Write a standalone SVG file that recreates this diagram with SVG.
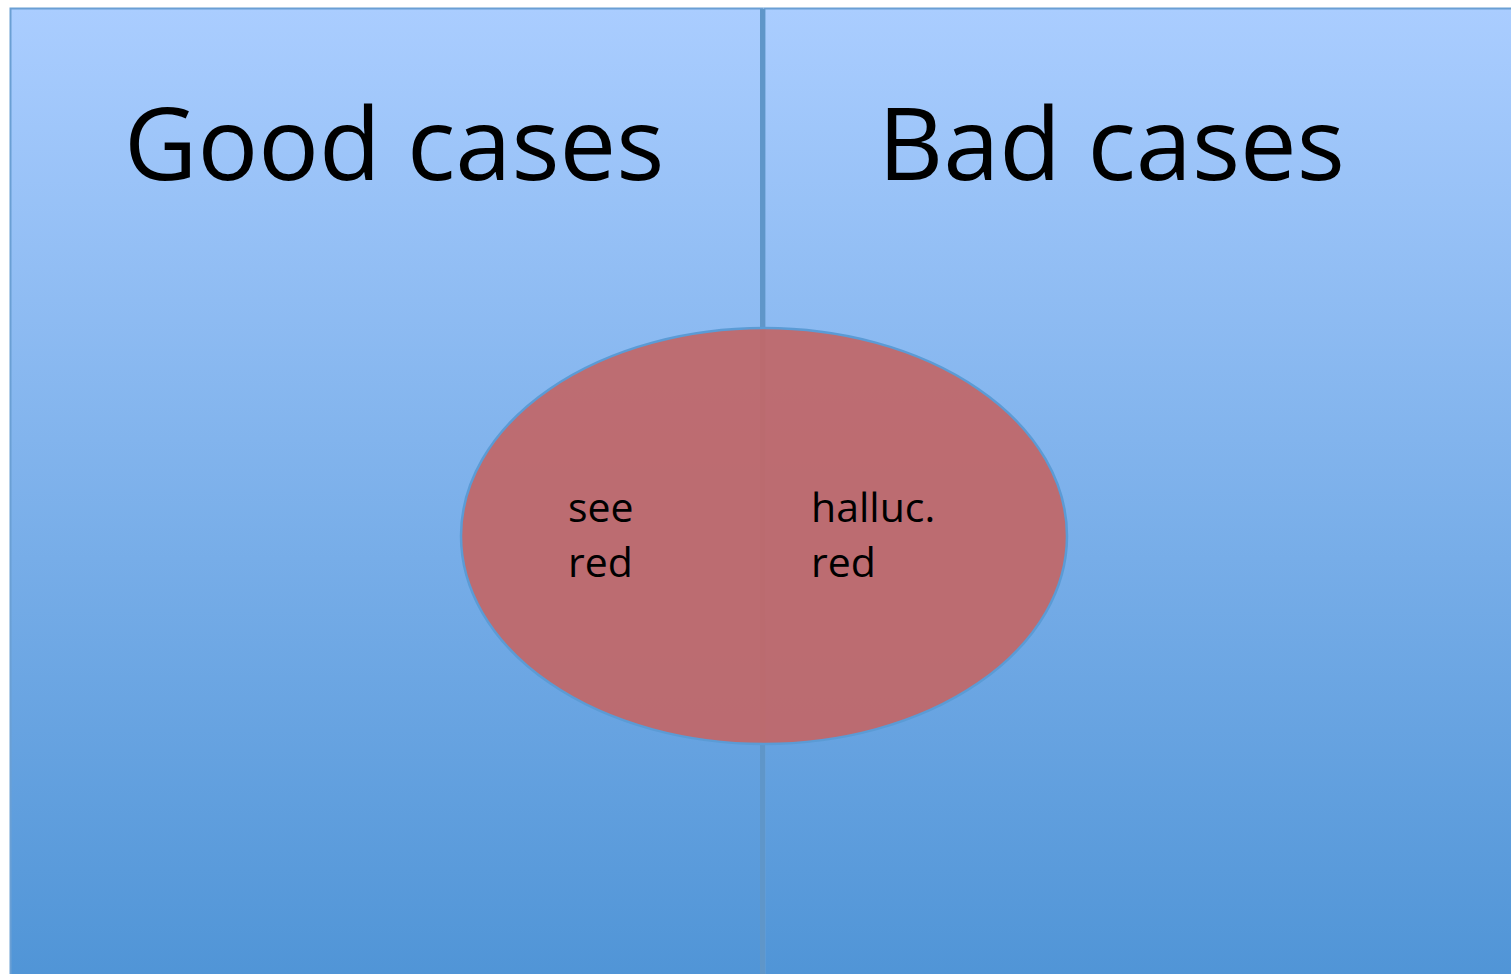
<svg xmlns="http://www.w3.org/2000/svg" width="1511" height="974" viewBox="0 0 1511 974">
<defs>
<linearGradient id="bg" x1="0" y1="0" x2="0" y2="1" gradientUnits="objectBoundingBox">
<stop offset="0" stop-color="#aacdff"/>
<stop offset="1" stop-color="#4f94d6"/>
</linearGradient>
<style>
.big{font-family:"Open Sans","Liberation Sans",sans-serif;font-size:101px;fill:#000}
.small{font-family:"Open Sans","Liberation Sans",sans-serif;font-size:41px;fill:#000}
</style>
</defs>
<rect x="0" y="0" width="1511" height="974" fill="#ffffff"/>
<g id="panel-good">
<rect x="10.5" y="8.5" width="752" height="980" fill="url(#bg)" stroke="#6a9fd4" stroke-width="2"/>
<text class="big" x="124" y="180">Good cases</text>
</g>
<g id="panel-bad">
<rect x="764.5" y="8.5" width="760" height="980" fill="url(#bg)" stroke="#6a9fd4" stroke-width="2"/>
<text class="big" x="878" y="180">Bad cases</text>
</g>
<g id="connectors">
<line x1="762.5" y1="9" x2="762.5" y2="974" stroke="#5f96c9" stroke-width="5"/>
</g>
<g id="ellipse">
<ellipse cx="764" cy="536" rx="303" ry="208" fill="#c0686a" fill-opacity="0.95" stroke="#5b9bd5" stroke-width="2.5"/>
<text class="small" x="568" y="522">see</text>
<text class="small" x="568" y="577">red</text>
<text class="small" x="811" y="522">halluc.</text>
<text class="small" x="811" y="577">red</text>
</g>
</svg>
